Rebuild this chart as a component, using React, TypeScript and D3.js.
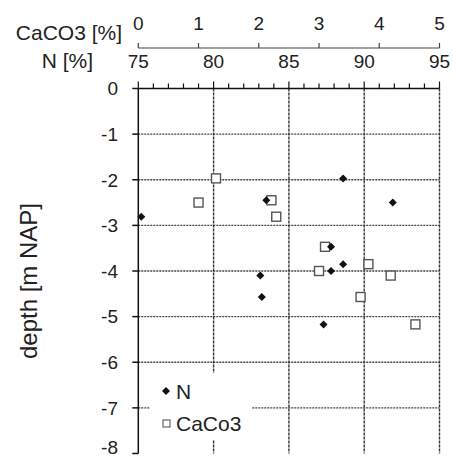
import React from 'react';
import * as d3 from 'd3';

// depth of each sample [m NAP]
const depths = [-1.97, -2.45, -2.5, -2.81, -3.47, -3.85, -4.0, -4.1, -4.57, -5.17];
// N [%] per sample
const nValues = [88.6, 83.5, 91.9, 75.2, 87.8, 88.6, 87.8, 83.1, 83.2, 87.3];
// CaCO3 [%] per sample
const caco3Values = [1.29, 2.21, 1.0, 2.29, 3.1, 3.82, 3.0, 4.19, 3.69, 4.6];

const nTicks = [75, 80, 85, 90, 95];
const caco3Ticks = [0, 1, 2, 3, 4, 5];
const depthTicks = [0, -1, -2, -3, -4, -5, -6, -7, -8];

const W = 453;
const H = 461;
const margin = { top: 88.5, right: 13.5, bottom: 7.5, left: 138.3 };
const font = '"Liberation Sans", Arial, sans-serif';

export default function App() {
  const x = d3.scaleLinear().domain([75, 95]).range([margin.left, W - margin.right]);
  const xc = d3.scaleLinear().domain([0, 5]).range([margin.left, W - margin.right]);
  const y = d3.scaleLinear().domain([0, -8]).range([margin.top, H - margin.bottom]);

  const minor = d3.range(75, 96, 1);
  const topAxisY = 48;

  const diamond = (cx: number, cy: number, r: number) =>
    `M${cx},${cy - r}L${cx + r},${cy}L${cx},${cy + r}L${cx - r},${cy}Z`;

  return (
    <svg width={W} height={H} style={{ position: 'absolute', left: 0, top: 0, background: '#fff' }}
      fontFamily={font}>
      {/* horizontal grid */}
      {depthTicks.filter(d => d < 0 && d > -8).map(d => (
        <line key={'h' + d} x1={margin.left} x2={W - margin.right} y1={y(d)} y2={y(d)}
          stroke="#444" strokeWidth={1.4} strokeDasharray="2,1" />
      ))}
      {/* vertical grid */}
      {nTicks.filter(v => v > 75).map(v => (
        <line key={'v' + v} x1={x(v)} x2={x(v)} y1={y(0)} y2={y(-8)}
          stroke="#333" strokeWidth={1.4} strokeDasharray="3,1" />
      ))}

      {/* legend box */}
      <rect x={150} y={373} width={102} height={67} fill="#fff" />
      <path d={diamond(166, 391, 4)} fill="#111" />
      <text x={176} y={399} fontSize={21} fill="#222">N</text>
      <rect x={163} y={420} width={7} height={7} fill="#fff" stroke="#666" strokeWidth={1.2} />
      <text x={176} y={431} fontSize={21} fill="#222">CaCo3</text>

      {/* left axis */}
      <line x1={x(75)} x2={x(75)} y1={y(0)} y2={y(-8)} stroke="#111" strokeWidth={1.5} />
      {depthTicks.map(d => (
        <g key={'yt' + d}>
          <line x1={x(75) - 6} x2={x(75)} y1={y(d)} y2={y(d)} stroke="#111" strokeWidth={1.5} />
          <text x={118} y={Math.min(y(d), 447)} dy="0.36em" textAnchor="end" fontSize={19} fill="#222">{d}</text>
        </g>
      ))}
      <text transform={`translate(37,${281}) rotate(-90)`} textAnchor="middle" fontSize={24} fill="#222">
        depth [m  NAP]
      </text>

      {/* N axis (top of plot) */}
      <line x1={x(75)} x2={x(95)} y1={y(0)} y2={y(0)} stroke="#111" strokeWidth={1.5} />
      {minor.map(v => (
        <line key={'m' + v} x1={x(v)} x2={x(v)} y1={y(0)} y2={y(0) - (v % 5 === 0 ? 7 : 5)}
          stroke="#111" strokeWidth={1.2} />
      ))}
      {nTicks.map(v => (
        <text key={'nt' + v} x={x(v)} y={68} textAnchor="middle" fontSize={19} fill="#222">{v}</text>
      ))}
      <text x={93} y={68} textAnchor="end" fontSize={21} fill="#222">N [%]</text>

      {/* CaCO3 axis */}
      <line x1={xc(0)} x2={xc(5)} y1={topAxisY} y2={topAxisY} stroke="#444" strokeWidth={1.2} />
      {caco3Ticks.map(v => (
        <g key={'ct' + v}>
          <line x1={xc(v)} x2={xc(v)} y1={topAxisY} y2={topAxisY - 5} stroke="#444" strokeWidth={1.2} />
          <text x={xc(v)} y={30} textAnchor="middle" fontSize={19} fill="#222">{v}</text>
        </g>
      ))}
      <text x={122} y={40} textAnchor="end" fontSize={21} fill="#222">CaCO3 [%]</text>

      {/* CaCO3 squares */}
      {depths.map((d, i) => (
        <rect key={'sq' + i} x={xc(caco3Values[i]) - 4.5} y={y(d) - 4.5} width={9} height={9}
          fill="#fff" stroke="#555" strokeWidth={1.4} />
      ))}
      {/* N diamonds */}
      {depths.map((d, i) => (
        <path key={'dm' + i} d={diamond(x(nValues[i]), y(d), 4)} fill="#111" />
      ))}
    </svg>
  );
}
